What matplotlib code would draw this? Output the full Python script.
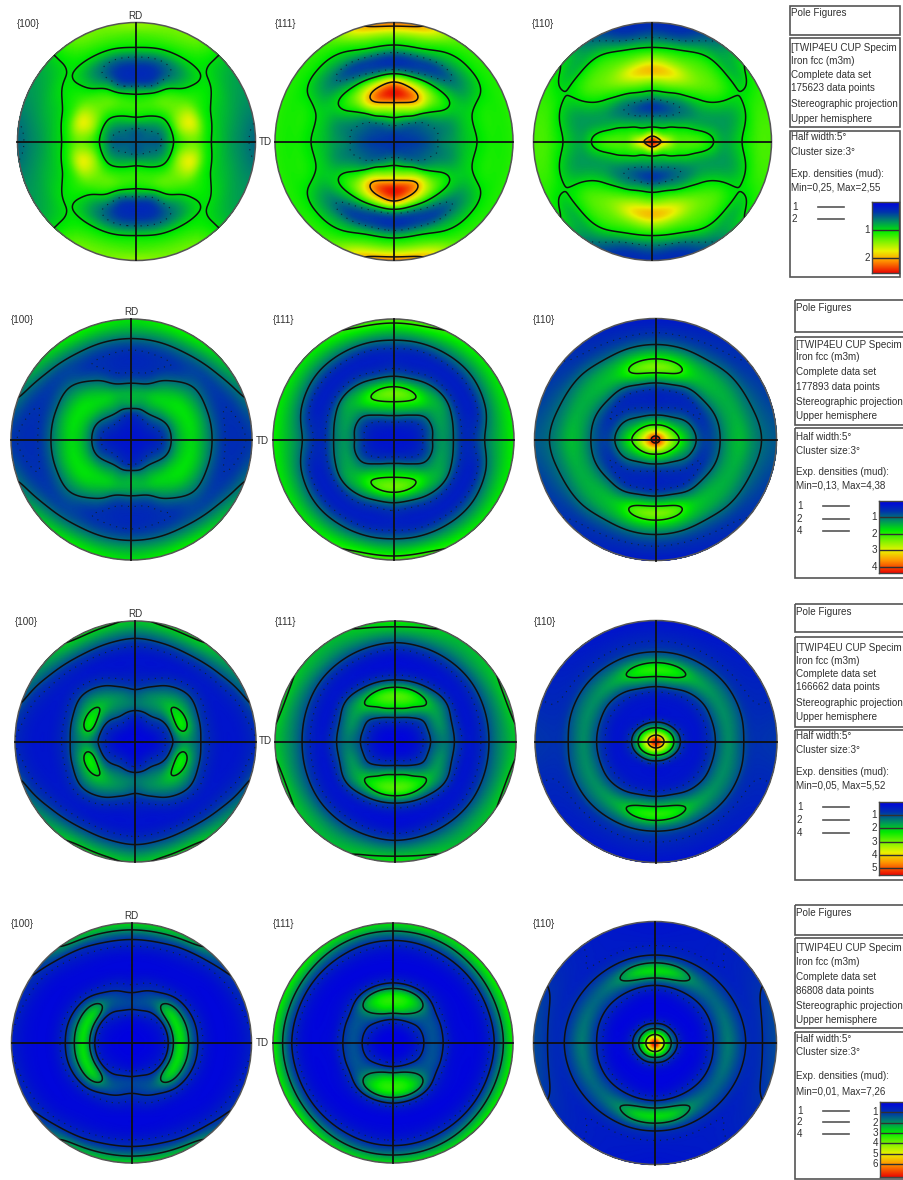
import numpy as np
import matplotlib
matplotlib.use("Agg")
import matplotlib.pyplot as plt
from matplotlib.colors import LinearSegmentedColormap, Normalize
from matplotlib.patches import Circle, Rectangle

W, H = 904, 1180
plt.rcParams['font.family'] = ['Liberation Sans', 'DejaVu Sans']

ANGLES = [0, 20, 40, 60, 75, 90]          # degrees from TD
RADII = [0, .1, .2, .3, .4, .5, .6, .7, .8, .9, 1.0]

# densities: one row per angle, one column per radius
R1_100 = [[.5,.5,.55,.95,1.3,1.35,1.05,.9,.75,.65,.55],
          [.5,.55,.6,.95,1.6,1.75,1.15,.95,.85,.75,.7],
          [.5,.55,.7,1.0,1.35,1.35,1.15,1.05,1.0,.9,.85],
          [.5,.55,.85,1.15,1.3,1.05,.7,.7,1.0,1.2,1.35],
          [.5,.55,.95,1.2,1.1,.5,.35,.55,1.0,1.25,1.4],
          [.5,.55,1.0,1.2,1.0,.4,.3,.55,1.05,1.25,1.5]]
R1_111 = [[.35,.35,.4,.5,.65,.75,.9,1.0,1.1,1.1,1.15],
          [.35,.4,.45,.55,.65,.75,.9,1.0,1.1,1.1,1.15],
          [.35,.4,.5,.7,1.05,1.2,.95,.7,.8,1.05,1.15],
          [.35,.45,.7,1.4,2.0,1.6,.75,.4,.8,1.1,1.35],
          [.35,.45,.9,1.65,2.4,1.8,.6,.4,.95,1.4,2.0],
          [.35,.45,1.0,1.75,2.55,2.05,.6,.35,.95,1.45,2.2]]
R1_110 = [[2.55,1.95,1.35,1.3,1.25,1.05,.8,.9,1.1,1.25,1.25],
          [2.55,1.6,1.2,1.05,.85,.75,.75,.8,.95,1.15,1.2],
          [2.55,1.3,.98,.7,.65,.9,1.15,1.25,1.1,.85,1.0],
          [2.55,1.2,.75,.5,.7,1.2,1.5,1.35,1.15,.8,.55],
          [2.55,1.15,.7,.4,.85,1.4,1.85,1.4,1.0,.5,.3],
          [2.55,1.15,.65,.35,.85,1.4,2.0,1.5,.95,.5,.3]]
R2_100 = [[.25,.25,.4,.8,1.45,1.7,1.35,.85,.55,.55,.65],
          [.25,.3,.5,.85,1.5,1.75,1.4,.85,.6,.7,1.0],
          [.25,.3,.65,1.1,1.65,1.7,1.3,.9,.7,1.05,1.5],
          [.25,.3,.65,1.3,1.65,1.3,.85,.6,.8,1.3,1.85],
          [.25,.3,.55,1.25,1.45,.85,.55,.55,.8,1.35,1.85],
          [.25,.3,.5,1.35,1.4,.8,.5,.5,.8,1.35,1.75]]
R2_111 = [[.25,.25,.4,.9,1.25,1.0,.45,.75,1.2,1.55,1.85],
          [.25,.25,.4,.8,1.3,1.1,.5,.4,.95,1.45,1.8],
          [.25,.3,.5,.95,1.4,1.35,.6,.35,.8,1.35,1.8],
          [.25,.3,.75,1.5,2.0,1.3,.6,.35,.8,1.4,1.95],
          [.25,.35,.95,1.8,2.3,1.2,.5,.35,.8,1.5,2.15],
          [.25,.35,1.0,1.9,2.4,1.2,.55,.4,.85,1.5,2.2]]
R2_110 = [[4.38,3.0,2.0,1.25,.7,.85,1.3,1.5,1.2,.95,.85],
          [4.38,2.9,1.75,1.1,.6,.85,1.3,1.4,1.1,.85,.7],
          [4.38,2.7,1.4,.85,.5,.95,1.4,1.4,1.05,.7,.6],
          [4.38,2.5,1.15,.6,.45,1.0,1.65,1.45,.9,.6,.45],
          [4.38,2.4,1.05,.5,.5,1.25,2.3,1.6,.9,.55,.35],
          [4.38,2.3,1.0,.45,.5,1.3,2.5,1.65,.9,.55,.3]]
R3_100 = [[.1,.1,.35,.9,1.55,1.25,.65,.35,.3,.4,.6],
          [.1,.1,.4,1.0,2.4,1.5,.7,.35,.35,.55,1.05],
          [.1,.15,.6,1.15,2.1,1.6,.9,.4,.5,1.05,1.6],
          [.1,.15,.7,1.35,1.65,1.2,.6,.3,.7,1.4,2.1],
          [.1,.15,.55,1.35,1.4,.8,.35,.3,.7,1.4,2.1],
          [.1,.15,.5,1.3,1.15,.6,.35,.3,.65,1.3,1.95]]
R3_111 = [[.1,.1,.4,1.05,1.35,.95,.35,.55,1.15,1.6,1.95],
          [.1,.1,.4,1.1,1.55,.95,.3,.5,1.1,1.6,2.1],
          [.1,.1,.5,1.1,1.75,1.3,.4,.4,1.0,1.6,1.95],
          [.1,.15,.7,1.7,2.35,1.2,.35,.35,.95,1.55,1.9],
          [.1,.2,.9,2.2,2.7,1.15,.3,.3,.9,1.6,2.1],
          [.1,.2,1.0,2.3,2.8,1.1,.3,.25,.85,1.6,2.3]]
R3_110 = [[5.52,3.2,1.0,.3,.5,1.05,1.5,1.1,.75,.75,.8],
          [5.52,3.1,.9,.3,.45,1.05,1.5,1.2,.7,.6,.6],
          [5.52,2.8,.65,.3,.45,1.0,1.55,1.25,.7,.5,.45],
          [5.52,2.5,.5,.3,.45,1.15,1.85,1.25,.7,.45,.35],
          [5.52,2.4,.45,.3,.5,1.45,2.4,1.3,.7,.45,.3],
          [5.52,2.3,.4,.3,.5,1.5,2.6,1.3,.7,.45,.3]]
R4_100 = [[.05,.05,.2,.8,3.0,1.6,.55,.15,.15,.3,.6],
          [.05,.05,.2,.8,3.0,1.6,.55,.15,.15,.35,.8],
          [.05,.05,.25,.85,2.8,1.4,.4,.15,.2,.55,1.2],
          [.05,.05,.3,1.0,1.6,.85,.25,.15,.4,1.0,2.4],
          [.05,.05,.3,1.15,1.25,.7,.2,.15,.5,1.3,2.7],
          [.05,.05,.3,1.15,1.1,.5,.15,.15,.55,1.35,2.8]]
R4_111 = [[.05,.05,.5,1.3,1.15,.3,.15,.15,.55,1.7,3.1],
          [.05,.05,.55,1.3,1.2,.3,.12,.15,.6,1.8,3.1],
          [.05,.05,.7,1.4,1.4,.5,.15,.15,.6,1.75,3.1],
          [.05,.1,.85,2.2,2.6,.8,.15,.15,.6,1.6,2.9],
          [.05,.1,.95,2.9,3.1,.9,.15,.15,.55,1.5,2.9],
          [.05,.1,1.0,3.0,3.2,.95,.15,.15,.5,1.5,2.9]]
R4_110 = [[7.26,3.0,.75,.15,.4,1.15,1.8,1.25,.8,1.05,1.25],
          [7.26,2.9,.7,.1,.35,1.1,1.7,1.2,.75,.95,1.15],
          [7.26,2.8,.55,.1,.35,1.1,1.6,1.15,.65,.7,.75],
          [7.26,2.7,.5,.1,.35,1.2,2.0,1.15,.6,.55,.55],
          [7.26,2.6,.45,.1,.3,1.3,2.8,1.2,.6,.5,.45],
          [7.26,2.5,.4,.1,.3,1.3,3.0,1.2,.6,.45,.4]]

PANEL_NAMES = ['{100}', '{111}', '{110}']
TABLES = [[R1_100, R1_111, R1_110], [R2_100, R2_111, R2_110],
          [R3_100, R3_111, R3_110], [R4_100, R4_111, R4_110]]
MAX_DENS = [2.55, 4.38, 5.52, 7.26]
COUNTS = ['175623', '177893', '166662', '86808']
MINMAX = ['Min=0,25, Max=2,55', 'Min=0,13, Max=4,38', 'Min=0,05, Max=5,52', 'Min=0,01, Max=7,26']
LEGEND_LEVELS = [['1', '2'], ['1', '2', '4'], ['1', '2', '4'], ['1', '2', '4']]
BAR_TICKS = [[1, 2], [1, 2, 3, 4], [1, 2, 3, 4, 5], [1, 2, 3, 4, 5, 6]]
LEVELS = [1, 2, 4]

# layout in reference pixels
CENTERS = [[(136.5, 141.5, 119), (394, 141.5, 119), (652.5, 141.5, 119)],
           [(131.5, 439.5, 120.5), (393.5, 439.5, 120.5), (655.5, 439.5, 121)],
           [(135.5, 741.5, 120.5), (395.5, 741.5, 120.5), (656, 741.5, 121)],
           [(131.5, 1043, 120), (393, 1043, 120), (655, 1043, 121.5)]]
NAME_X = [[17, 275, 532], [11, 273, 533], [15, 275, 534], [11, 273, 533]]
NAME_Y = [24, 320, 622, 924]
RD_POS = [(135, 16), (131, 312), (135, 614), (131, 916)]
TD_POS = [(265, 142), (262, 441), (265, 741), (262, 1043)]
BOX_X = [790, 795, 795, 795]
BOXES = [[(6, 35), (38, 127), (131, 277)], [(300, 332), (337, 425), (428, 578)],
         [(604, 632), (637, 727), (730, 880)], [(905, 935), (938, 1028), (1032, 1179)]]
TEXT_Y = [[13, 48, 61, 75, 88, 104, 119, 137, 152, 174, 188],
          [308, 345, 357, 372, 387, 402, 416, 437, 451, 472, 485],
          [612, 648, 661, 674, 687, 703, 717, 736, 750, 772, 786],
          [913, 948, 962, 977, 991, 1006, 1020, 1039, 1052, 1076, 1091]]
LEG_Y = [[207, 219], [506, 519, 531], [807, 820, 833], [1111, 1122, 1134]]
BAR = [(872, 899, 202, 273), (879, 910, 501, 573), (879, 910, 802, 875), (880, 910, 1102, 1177)]

CMAP = LinearSegmentedColormap.from_list('tex', [
    (0.0, (0, 0, .88)), (.14, (0, .2, .68)), (.28, (0, .58, .36)), (.41, (0, .92, 0)),
    (.55, (.47, .95, 0)), (.69, (.92, .95, 0)), (.83, (1, .58, 0)), (1.0, (.92, .03, 0))])
TEXT_C = '#303030'

fig = plt.figure(figsize=(W / 100, H / 100), dpi=100, facecolor='white')

def px_axes(x0, y0, x1, y1, **kw):
    return fig.add_axes([x0 / W, 1 - y1 / H, (x1 - x0) / W, (y1 - y0) / H], **kw)

def hermite(x, y, q, flat_start=False):
    """Cubic Hermite resampling of y (first axis over x) at the positions q."""
    m = np.gradient(y, x, axis=0)
    if flat_start:
        m[0] = 0
    i = np.clip(np.searchsorted(x, q, side='right') - 1, 0, len(x) - 2)
    h = x[i + 1] - x[i]
    s = (q - x[i]) / h
    shape = (-1,) + (1,) * (y.ndim - 1)
    s = s.reshape(shape); h = h.reshape(shape)
    return ((2*s**3 - 3*s**2 + 1) * y[i] + (s**3 - 2*s**2 + s) * h * m[i]
            + (-2*s**3 + 3*s**2) * y[i + 1] + (s**3 - s**2) * h * m[i + 1])

GRID = np.linspace(-1.06, 1.06, 361)
GX, GY = np.meshgrid(GRID, GRID)
SIGMA = .022
KERNEL = np.exp(-.5 * (np.arange(-12, 13) * (GRID[1] - GRID[0]) / SIGMA) ** 2)
KERNEL /= KERNEL.sum()

def soften(Z):
    P = np.pad(Z, 12, mode='edge')
    P = np.apply_along_axis(lambda v: np.convolve(v, KERNEL, mode='same'), 0, P)
    P = np.apply_along_axis(lambda v: np.convolve(v, KERNEL, mode='same'), 1, P)
    return P[12:-12, 12:-12]

def cart_field(table):
    t = np.array(table, float)
    a = np.array(ANGLES, float)
    ang = np.concatenate([a, 180 - a[-2::-1], 180 + a[1:], 360 - a[-2:0:-1]])
    val = np.vstack([t, t[-2::-1], t[1:], t[-2:0:-1]])
    ang = np.concatenate([ang[-3:] - 360, ang, ang[:3] + 360])
    val = np.vstack([val[-3:], val, val[:3]])
    r = np.array(RADII + [1.1, 1.6])
    val = np.hstack([val, val[:, -1:], val[:, -1:]])
    fa = np.linspace(0, 360, 721)
    fr = np.linspace(0, 1.5, 751)
    by_r = hermite(r, val.T, fr, flat_start=True)
    P = hermite(ang, by_r.T, fa)                   # (fa, fr)
    rr = np.hypot(GX, GY)
    th = np.degrees(np.arctan2(GY, GX)) % 360
    Z = P[np.rint(th / .5).astype(int), np.rint(rr / .002).astype(int)]
    S = soften(Z)
    w = np.exp(-(rr / .05) ** 2)                   # keep the sharp central peak
    return np.clip(S * (1 - w) + Z * w, 0, None)

for i, row in enumerate(TABLES):
    norm = Normalize(0, MAX_DENS[i])
    for j, table in enumerate(row):
        cx, cy, rad = CENTERS[i][j]
        pad = rad * 1.03
        ax = px_axes(cx - pad, cy - pad, cx + pad, cy + pad)
        ax.set_xlim(-1.03, 1.03); ax.set_ylim(-1.03, 1.03)
        ax.set_aspect('equal'); ax.axis('off')
        Z = cart_field(table)
        clip = Circle((0, 0), 1, transform=ax.transData)
        m = ax.pcolormesh(GX, GY, Z, shading='gouraud', cmap=CMAP, norm=norm)
        m.set_clip_path(clip)
        cs = ax.contour(GX, GY, Z, levels=LEVELS, colors='#101010', linewidths=1.1)
        cs.set_clip_path(clip)
        cd = ax.contour(GX, GY, Z, levels=[.6], colors='#102030', linewidths=.8,
                        linestyles=[(0, (1, 5))])
        cd.set_clip_path(clip)
        ax.plot([-1, 1], [0, 0], color='#101010', lw=1.3)
        ax.plot([0, 0], [-1, 1], color='#101010', lw=1.3)
        ax.add_patch(Circle((0, 0), 1, fill=False, ec='#555555', lw=1.1))

ov = fig.add_axes([0, 0, 1, 1], facecolor='none')
ov.set_xlim(0, W); ov.set_ylim(H, 0); ov.axis('off')

FS = 7.1
for i in range(4):
    for j, name in enumerate(PANEL_NAMES):
        ov.text(NAME_X[i][j], NAME_Y[i], name, fontsize=FS, color=TEXT_C, va='center', ha='left')
    ov.text(*RD_POS[i], 'RD', fontsize=FS, color=TEXT_C, va='center', ha='center')
    ov.text(*TD_POS[i], 'TD', fontsize=FS, color=TEXT_C, va='center', ha='center')

    x0 = BOX_X[i]
    for top, bot in BOXES[i]:
        ov.add_patch(Rectangle((x0, top), 120 if i else 110, bot - top, fill=False,
                               ec='#555555', lw=1.2))
    lines = ['Pole Figures', '[TWIP4EU CUP Specim', 'Iron fcc (m3m)', 'Complete data set',
             COUNTS[i] + ' data points', 'Stereographic projection', 'Upper hemisphere',
             'Half width:5°', 'Cluster size:3°', 'Exp. densities (mud):', MINMAX[i]]
    for y, s in zip(TEXT_Y[i], lines):
        ov.text(x0 + 1, y, s, fontsize=FS, color=TEXT_C, va='center', ha='left')
    for y, s in zip(LEG_Y[i], LEGEND_LEVELS[i]):
        ov.text(x0 + 2, y, s, fontsize=FS, color=TEXT_C, va='center', ha='left')
        ov.plot([x0 + 28, x0 + 54], [y, y], color='#555555', lw=1.2)

    bx0, bx1, by0, by1 = BAR[i]
    cax = px_axes(bx0, by0, bx1, by1)
    grad = np.linspace(0, 1, 256).reshape(-1, 1)
    cax.imshow(grad, aspect='auto', cmap=CMAP, vmin=0, vmax=1,
               extent=[0, 1, MAX_DENS[i], 0])
    cax.set_xticks([]); cax.set_yticks([])
    for sp in cax.spines.values():
        sp.set_color('#444444'); sp.set_linewidth(1)
    for v in BAR_TICKS[i]:
        cax.axhline(v, color='#303030', lw=1)
        yy = by0 + (by1 - by0) * v / MAX_DENS[i]
        ov.text(bx0 - 2, yy, str(v), fontsize=FS, color=TEXT_C, va='center', ha='right')

fig.savefig('out.png', dpi=100)
